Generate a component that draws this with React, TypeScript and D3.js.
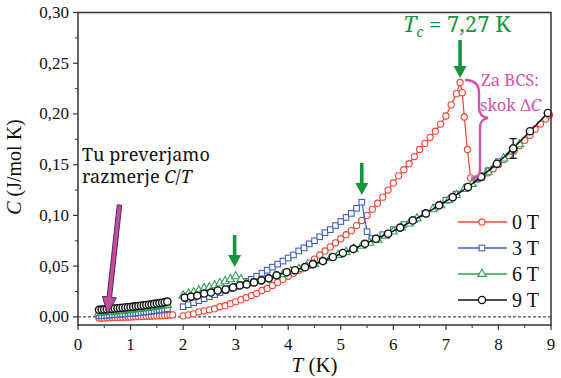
import React from "react";
import * as d3 from "d3";

const W = 561;
const H = 378;

// low temperature run, 0.4 - 1.7 K
const tLow = [0.4, 0.45, 0.5, 0.55, 0.6, 0.65, 0.7, 0.75, 0.8, 0.85, 0.9, 0.95, 1.0, 1.05, 1.1, 1.15, 1.2, 1.25, 1.3, 1.35, 1.4, 1.45, 1.5, 1.55, 1.6, 1.65, 1.7];
const tLowRed = [0.4, 0.45, 0.5, 0.55, 0.6, 0.65, 0.7, 0.75, 0.8, 0.85, 0.9, 0.95, 1.0, 1.05, 1.1, 1.15, 1.2, 1.25, 1.3, 1.35, 1.4, 1.45, 1.5, 1.55, 1.6, 1.65, 1.7, 1.75, 1.8];
const cLow0 = [-0.0012, -0.0011, -0.001, -0.0009, -0.0008, -0.0007, -0.0006, -0.0005, -0.0004, -0.0003, -0.0002, -0.0001, 0, 0.0001, 0.0002, 0.0003, 0.0004, 0.0005, 0.0006, 0.0007, 0.0008, 0.0009, 0.001, 0.0011, 0.0012, 0.0014, 0.0016, 0.0018, 0.002];
const cLow3 = [0.001, 0.0012, 0.0014, 0.0016, 0.0018, 0.002, 0.0022, 0.0024, 0.0026, 0.0028, 0.003, 0.0032, 0.0034, 0.0036, 0.0038, 0.0041, 0.0044, 0.0047, 0.005, 0.0053, 0.0056, 0.006, 0.0064, 0.0068, 0.0072, 0.0076, 0.008];
const cLow6 = [0.004, 0.0042, 0.0044, 0.0046, 0.0048, 0.005, 0.0053, 0.0055, 0.0058, 0.006, 0.0063, 0.0066, 0.0069, 0.0072, 0.0075, 0.0078, 0.0081, 0.0084, 0.0088, 0.0091, 0.0095, 0.0099, 0.0103, 0.0107, 0.0111, 0.0115, 0.012];
const cLow9 = [0.007, 0.0072, 0.0074, 0.0076, 0.0078, 0.008, 0.0083, 0.0085, 0.0088, 0.009, 0.0093, 0.0095, 0.0098, 0.0101, 0.0104, 0.0107, 0.011, 0.0113, 0.0117, 0.012, 0.0124, 0.0128, 0.0132, 0.0136, 0.014, 0.0145, 0.015];

// main run, 2 - 9 K
const t0 = [2.0, 2.1, 2.2, 2.3, 2.4, 2.5, 2.6, 2.7, 2.8, 2.9, 3.0, 3.1, 3.2, 3.3, 3.4, 3.5, 3.6, 3.7, 3.8, 3.9, 4.0, 4.1, 4.2, 4.3, 4.4, 4.5, 4.6, 4.7, 4.8, 4.9, 5.0, 5.1, 5.2, 5.3, 5.4, 5.5, 5.6, 5.7, 5.8, 5.9, 6.0, 6.1, 6.2, 6.3, 6.4, 6.5, 6.6, 6.7, 6.8, 6.9, 7.0, 7.1, 7.2, 7.27, 7.31, 7.35, 7.41, 7.47, 7.6, 7.7, 7.8, 7.9, 8.0, 8.1, 8.2, 8.3, 8.4, 8.5, 8.6, 8.7, 8.8, 8.9, 8.97];
const c0 = [0.001, 0.002, 0.003, 0.005, 0.006, 0.007, 0.008, 0.01, 0.011, 0.013, 0.015, 0.017, 0.019, 0.021, 0.023, 0.026, 0.028, 0.031, 0.034, 0.037, 0.04, 0.043, 0.046, 0.049, 0.053, 0.057, 0.061, 0.065, 0.069, 0.073, 0.077, 0.081, 0.085, 0.09, 0.095, 0.1, 0.106, 0.112, 0.118, 0.125, 0.132, 0.139, 0.145, 0.151, 0.158, 0.165, 0.171, 0.177, 0.183, 0.19, 0.198, 0.209, 0.22, 0.231, 0.221, 0.197, 0.165, 0.137, 0.136, 0.139, 0.142, 0.146, 0.15, 0.155, 0.159, 0.164, 0.169, 0.174, 0.179, 0.185, 0.19, 0.195, 0.199];

const t3 = [2.0, 2.1, 2.2, 2.3, 2.4, 2.5, 2.6, 2.7, 2.8, 2.9, 3.0, 3.1, 3.2, 3.3, 3.4, 3.5, 3.6, 3.7, 3.8, 3.9, 4.0, 4.1, 4.2, 4.3, 4.4, 4.5, 4.6, 4.7, 4.8, 4.9, 5.0, 5.1, 5.2, 5.3, 5.4, 5.5, 5.59, 5.8, 6.0, 6.2, 6.4, 6.6, 6.8, 7.0, 7.2, 7.4, 7.6, 7.8, 8.0];
const c3 = [0.01, 0.012, 0.014, 0.016, 0.018, 0.02, 0.022, 0.024, 0.026, 0.028, 0.03, 0.032, 0.035, 0.037, 0.04, 0.043, 0.046, 0.049, 0.052, 0.055, 0.058, 0.061, 0.065, 0.068, 0.072, 0.075, 0.079, 0.083, 0.086, 0.09, 0.094, 0.098, 0.102, 0.107, 0.113, 0.084, 0.077, 0.081, 0.086, 0.091, 0.096, 0.102, 0.108, 0.115, 0.121, 0.128, 0.136, 0.144, 0.153];

const t6 = [2.0, 2.1, 2.2, 2.3, 2.4, 2.5, 2.6, 2.7, 2.8, 2.9, 3.0, 3.1, 3.2, 3.3, 3.45, 3.6, 3.75, 3.9, 4.05, 4.2, 4.35, 4.5, 4.65, 4.8, 4.95, 5.1, 5.25, 5.4, 5.55, 5.7, 5.85, 6.0, 6.15, 6.3, 6.45, 6.6, 6.75, 6.9, 7.05, 7.2, 7.35, 7.5, 7.65, 7.8, 7.95, 8.1, 8.25, 8.4];
const c6 = [0.021, 0.023, 0.024, 0.026, 0.028, 0.029, 0.031, 0.033, 0.035, 0.037, 0.04, 0.037, 0.033, 0.033, 0.035, 0.037, 0.04, 0.042, 0.045, 0.047, 0.05, 0.052, 0.055, 0.058, 0.061, 0.064, 0.067, 0.07, 0.073, 0.076, 0.08, 0.084, 0.088, 0.092, 0.097, 0.101, 0.106, 0.11, 0.115, 0.12, 0.126, 0.131, 0.137, 0.143, 0.15, 0.156, 0.163, 0.17];

const t9 = [2.03, 2.15, 2.27, 2.4, 2.53, 2.66, 2.81, 2.95, 3.08, 3.21, 3.35, 3.49, 3.63, 3.78, 3.97, 4.13, 4.32, 4.47, 4.66, 4.85, 5.04, 5.24, 5.46, 5.67, 5.9, 6.13, 6.37, 6.62, 6.87, 7.13, 7.42, 7.67, 7.97, 8.28, 8.6, 8.94];
const c9 = [0.019, 0.02, 0.021, 0.023, 0.024, 0.026, 0.027, 0.029, 0.031, 0.032, 0.034, 0.036, 0.038, 0.041, 0.044, 0.046, 0.049, 0.052, 0.055, 0.059, 0.063, 0.067, 0.072, 0.077, 0.082, 0.088, 0.095, 0.102, 0.11, 0.118, 0.128, 0.138, 0.151, 0.166, 0.183, 0.201];

const legendLabels = ["0 T", "3 T", "6 T", "9 T"];
const errT = 8.28;
const errC = 0.166;
const errD = 0.0097;

const RED = "#ef4437";
const BLUE = "#3f5ec0";
const GREEN = "#2f9e55";
const BLACK = "#111";
const ARROW_GREEN = "#16943f";
const PINK = "#d452ab";
const TIMES = "serif";
const CAMBRIA = "Noto Serif";

const x = d3.scaleLinear().domain([0, 9]).range([78, 551]);
const y = d3.scaleLinear().domain([-0.008, 0.3]).range([325, 12.5]);

const line = d3
  .line<[number, number]>()
  .x((d) => x(d[0]))
  .y((d) => y(d[1]));

const zip = (ts: number[], cs: number[]) => ts.map((t, i) => [t, cs[i]] as [number, number]);

const series = [
  { name: legendLabels[0], color: RED, shape: "circle", low: zip(tLowRed, cLow0), high: zip(t0, c0) },
  { name: legendLabels[1], color: BLUE, shape: "square", low: zip(tLow, cLow3), high: zip(t3, c3) },
  { name: legendLabels[2], color: GREEN, shape: "triangle", low: zip(tLow, cLow6), high: zip(t6, c6) },
  { name: legendLabels[3], color: BLACK, shape: "hex", low: zip(tLow, cLow9), high: zip(t9, c9) },
];

const tri = d3.symbol(d3.symbolTriangle, 30)();

function Marker({ shape, cx, cy, color }: { shape: string; cx: number; cy: number; color: string }) {
  if (shape === "square")
    return <rect x={cx - 2.8} y={cy - 2.8} width={5.6} height={5.6} fill="#fff" stroke={color} strokeWidth={1.1} />;
  if (shape === "triangle")
    return <path d={tri || ""} transform={`translate(${cx},${cy})`} fill="#fff" stroke={color} strokeWidth={1.1} />;
  if (shape === "hex")
    return <circle cx={cx} cy={cy} r={3.6} fill="#fff" stroke={color} strokeWidth={1.4} />;
  return <circle cx={cx} cy={cy} r={3.1} fill="#fff" stroke={color} strokeWidth={1.1} />;
}

// vertical block arrow pointing down
function downArrow(cx: number, y1: number, y2: number, shaft = 3.6, head = 13, headLen = 12) {
  const s = shaft / 2;
  const h = head / 2;
  return `M${cx - s},${y1} L${cx + s},${y1} L${cx + s},${y2 - headLen} L${cx + h},${y2 - headLen} L${cx},${y2} L${cx - h},${y2 - headLen} L${cx - s},${y2 - headLen} Z`;
}

// slanted block arrow from (x1,y1) to (x2,y2)
function slantArrow(x1: number, y1: number, x2: number, y2: number, shaft: number, head: number, headLen: number) {
  const dx = x2 - x1;
  const dy = y2 - y1;
  const len = Math.hypot(dx, dy);
  const ux = dx / len;
  const uy = dy / len;
  const px = -uy;
  const py = ux;
  const bx = x2 - ux * headLen;
  const by = y2 - uy * headLen;
  const s = shaft / 2;
  const h = head / 2;
  const pts = [
    [x1 + px * s, y1 + py * s],
    [bx + px * s, by + py * s],
    [bx + px * h, by + py * h],
    [x2, y2],
    [bx - px * h, by - py * h],
    [bx - px * s, by - py * s],
    [x1 - px * s, y1 - py * s],
  ];
  return "M" + pts.map((p) => p.join(",")).join(" L") + " Z";
}

const fmt = (v: number) => d3.format(".2f")(v).replace(".", ",");

export default function App() {
  const [x0, x1] = x.range();
  const [yb, yt] = y.range();
  const yTicks = y.ticks(6).filter((v) => v >= 0);
  const yMinor = d3.range(0.025, 0.3, 0.05);
  const xTicks = x.ticks(9);
  const xMinor = d3.range(0.5, 9, 1);
  const legendY = [222, 248, 274, 300];

  return (
    <svg width={W} height={H} style={{ position: "absolute", left: 0, top: 0 }}>
      <rect width={W} height={H} fill="#fff" />
      {/* zero line */}
      <line x1={x0} x2={x1} y1={y(0)} y2={y(0)} stroke="#222" strokeWidth={1} strokeDasharray="3,2" />

      {/* data */}
      {series.map((s) => (
        <g key={s.name}>
          <path d={line(s.low) || ""} fill="none" stroke={s.color} strokeWidth={1.2} />
          <path d={line(s.high) || ""} fill="none" stroke={s.color} strokeWidth={s.shape === "hex" ? 1.5 : 1.2} />
          {s.low.concat(s.high).map((d, i) => (
            <Marker key={i} shape={s.shape} cx={x(d[0])} cy={y(d[1])} color={s.color} />
          ))}
        </g>
      ))}

      {/* error bar */}
      <g stroke="#111" strokeWidth={1.3}>
        <line x1={x(errT)} x2={x(errT)} y1={y(errC + errD)} y2={y(errC - errD)} />
        <line x1={x(errT) - 3.5} x2={x(errT) + 3.5} y1={y(errC + errD)} y2={y(errC + errD)} />
        <line x1={x(errT) - 3.5} x2={x(errT) + 3.5} y1={y(errC - errD)} y2={y(errC - errD)} />
      </g>
      <Marker shape="hex" cx={x(errT)} cy={y(errC)} color={BLACK} />

      {/* frame */}
      <rect x={x0} y={yt} width={x1 - x0} height={yb - yt} fill="none" stroke="#333" strokeWidth={1.5} />

      {/* y axis */}
      {yTicks.map((v) => (
        <g key={v}>
          <line x1={x0 - 5} x2={x0} y1={y(v)} y2={y(v)} stroke="#333" strokeWidth={1.2} />
          <text x={x0 - 9} y={y(v) + 5.5} textAnchor="end" fontSize={17} fill="#111" fontFamily={TIMES}>
            {fmt(v)}
          </text>
        </g>
      ))}
      {yMinor.map((v) => (
        <line key={v} x1={x0 - 3} x2={x0} y1={y(v)} y2={y(v)} stroke="#333" strokeWidth={1} />
      ))}

      {/* x axis */}
      {xTicks.map((v) => (
        <g key={v}>
          <line x1={x(v)} x2={x(v)} y1={yb} y2={yb + 5} stroke="#333" strokeWidth={1.2} />
          <text x={x(v)} y={yb + 25} textAnchor="middle" fontSize={17} fill="#111" fontFamily={TIMES}>
            {v}
          </text>
        </g>
      ))}
      {xMinor.map((v) => (
        <line key={v} x1={x(v)} x2={x(v)} y1={yb} y2={yb + 3} stroke="#333" strokeWidth={1} />
      ))}

      <text x={(x0 + x1) / 2} y={372} textAnchor="middle" fontSize={21} fill="#111" fontFamily={TIMES}>
        <tspan fontStyle="italic">T</tspan> (K)
      </text>
      <text transform={`translate(21,167) rotate(-90)`} textAnchor="middle" fontSize={20} fill="#111" fontFamily={TIMES}>
        <tspan fontStyle="italic">C</tspan> (J/mol K)
      </text>

      {/* legend */}
      {series.map((s, i) => (
        <g key={s.name}>
          <line x1={458} x2={507} y1={legendY[i]} y2={legendY[i]} stroke={s.color} strokeWidth={1.6} />
          <Marker shape={s.shape} cx={482} cy={legendY[i]} color={s.color} />
          <text x={512} y={legendY[i] + 6.5} fontSize={20} fill="#111" fontFamily={TIMES}>
            {s.name}
          </text>
        </g>
      ))}

      {/* annotations */}
      <text x={403} y={32} fontSize={22} fill={ARROW_GREEN} fontFamily={CAMBRIA}>
        <tspan fontStyle="italic">T</tspan>
        <tspan fontStyle="italic" fontSize={14} dy={5}>c</tspan>
        <tspan dy={-5}> = 7,27 K</tspan>
      </text>
      <path d={downArrow(x(7.27), 40, 78)} fill={ARROW_GREEN} />
      <path d={downArrow(x(5.4), 163, 195)} fill={ARROW_GREEN} />
      <path d={downArrow(x(2.98), 235, 267)} fill={ARROW_GREEN} />

      <path
        d="M465,80 C474,80 479,84 479,93 L479,108 C479,114 482,117 488,118 C482,119 480,122 480,128 L480,170 C480,176 477,178 471,178"
        fill="none"
        stroke={PINK}
        strokeWidth={2.4}
      />
      <text x={481} y={86} fontSize={16.5} fill={PINK} fontFamily={CAMBRIA}>Za BCS:</text>
      <text x={480} y={111} fontSize={16.5} fill={PINK} fontFamily={CAMBRIA}>
        skok Δ<tspan fontStyle="italic">C</tspan>
      </text>

      <text x={82} y={161} fontSize={18} fill="#111" fontFamily={CAMBRIA}>Tu preverjamo</text>
      <text x={82} y={183} fontSize={18} fill="#111" fontFamily={CAMBRIA}>
        razmerje <tspan fontStyle="italic">C</tspan>/<tspan fontStyle="italic">T</tspan>
      </text>
      <path d={slantArrow(119.5, 205, 107.5, 314, 4.5, 14, 17)} fill="#c24d9f" stroke="#5b2559" strokeWidth={1} />
    </svg>
  );
}
